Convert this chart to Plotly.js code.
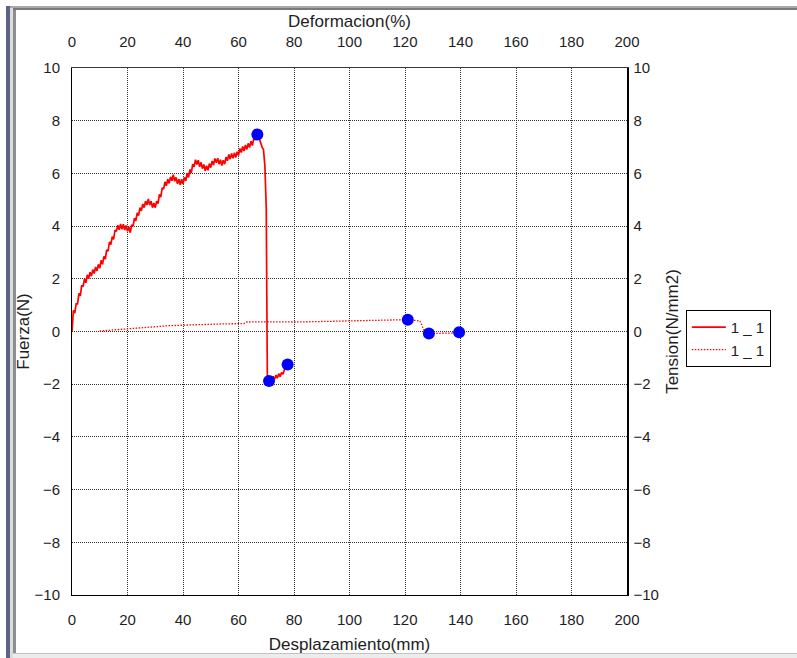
<!DOCTYPE html>
<html>
<head>
<meta charset="utf-8">
<script src="https://cdn.plot.ly/plotly-3.0.1.min.js"></script>
<style>
  html, body { margin: 0; padding: 0; background: #ffffff; }
  #wrap { position: relative; width: 797px; height: 658px; overflow: hidden; }
  #chart { position: absolute; left: 0; top: 0; width: 797px; height: 658px; }
  .fr { position: absolute; pointer-events: none; }
</style>
</head>
<body>
<div id="wrap">
  <div id="chart"></div>
  <div class="fr" style="left:6px;top:6px;width:4px;height:652px;background:#5c6384;"></div>
  <div class="fr" style="left:10px;top:6px;width:3px;height:652px;background:#dcdcdc;"></div>
  <div class="fr" style="left:13px;top:9px;width:3px;height:644px;background:#8e8e8e;"></div>
  <div class="fr" style="left:10px;top:6px;width:787px;height:2px;background:#a8a8a8;"></div>
  <div class="fr" style="left:13px;top:8px;width:784px;height:2px;background:#7a7a7a;"></div>
  <div class="fr" style="left:13px;top:653px;width:784px;height:1px;background:#c4c4c4;"></div>
  <div class="fr" style="left:13px;top:654px;width:784px;height:4px;background:#ececec;"></div>
</div>
<script>
// Fuerza (N) vs Desplazamiento (mm), solid series "1 _ 1"
const dispX = [0,0.5,1,1.5,2,2.5,3,3.5,4,4.5,5,5.5,6,6.5,7,7.5,8,8.5,9,9.5,
  10,10.5,11,11.5,12,12.5,13,13.5,14,14.5,15,15.5,16,16.5,17,17.5,18,18.5,19,19.5,
  20,20.5,21,21.5,22,22.5,23,23.5,24,24.5,25,25.5,26,26.5,27,27.5,28,28.5,29,29.5,
  30,30.5,31,31.5,32,32.5,33,33.5,34,34.5,35,35.5,36,36.5,37,37.5,38,38.5,39,39.5,
  40,40.5,41,41.5,42,42.5,43,43.5,44,44.5,45,45.5,46,46.5,47,47.5,48,48.5,49,49.5,
  50,50.5,51,51.5,52,52.5,53,53.5,54,54.5,55,55.5,56,56.5,57,57.5,58,58.5,59,59.5,
  60,60.5,61,61.5,62,62.5,63,63.5,64,64.5,65,65.5,66,66.5,67,67.5,68,68.5,69,69.5,
  70,70.4,71,71.5,72,72.5,73,73.5,74,74.5,75,75.5,76,76.5,77,77.7];
const fuerza = [0,0.80,0.70,1.05,1.05,1.45,1.35,1.75,1.70,2.00,1.85,2.15,2.00,2.25,2.10,2.35,2.20,2.45,2.30,2.55,
  2.40,2.70,2.55,2.85,2.75,3.10,3.05,3.40,3.30,3.60,3.50,3.85,3.80,4.03,3.86,4.08,3.88,4.07,3.85,4.02,
  3.80,3.97,3.75,4.05,4.00,4.30,4.20,4.50,4.40,4.70,4.58,4.84,4.70,4.95,4.80,5.03,4.80,4.95,4.70,4.88,
  4.70,4.95,4.85,5.20,5.10,5.45,5.40,5.68,5.53,5.78,5.62,5.87,5.72,5.95,5.70,5.85,5.60,5.78,5.57,5.78,
  5.60,5.85,5.72,6.00,5.85,6.15,6.02,6.35,6.25,6.52,6.34,6.50,6.25,6.42,6.18,6.34,6.10,6.29,6.12,6.37,
  6.22,6.47,6.32,6.57,6.40,6.58,6.35,6.52,6.30,6.50,6.35,6.62,6.48,6.72,6.54,6.76,6.57,6.78,6.60,6.82,
  6.68,6.94,6.79,7.02,6.85,7.08,6.91,7.14,6.98,7.22,7.06,7.33,7.27,7.45,7.48,7.30,7.10,7.00,6.90,6.30,
  4.70,-1.85,-1.88,-1.74,-1.87,-1.70,-1.82,-1.66,-1.77,-1.60,-1.72,-1.56,-1.62,-1.46,-1.40,-1.25];

// Tension (N/mm2) vs Deformacion (%), dotted series "1 _ 1"
const deformX = [10,15,20,25,30,35,40,45,50,55,62,63,70,80,90,100,110,115,121,125.4,127.2,128.6,135,139.5];
const tension = [0.02,0.06,0.12,0.15,0.20,0.22,0.24,0.26,0.27,0.29,0.30,0.36,0.37,0.36,0.38,0.40,0.42,0.44,0.45,0.40,-0.04,-0.08,-0.07,-0.05];

// marked points
const markF_X = [66.8, 71, 77.7];
const markF_Y = [7.48, -1.88, -1.25];
const markT_X = [121, 128.6, 139.5];
const markT_Y = [0.45, -0.08, -0.03];

const xTicks = [0,20,40,60,80,100,120,140,160,180,200];
const yTicks = [-10,-8,-6,-4,-2,0,2,4,6,8,10];
const seriesName = "1 _ 1";

const FONT = "Liberation Sans, Arial, sans-serif";
const TXT = "#1e1e1e";

const traces = [
  { x: dispX, y: fuerza, type: "scatter", mode: "lines", name: seriesName,
    line: { color: "#ff0000", width: 1.7 }, xaxis: "x", yaxis: "y" },
  { x: deformX, y: tension, type: "scatter", mode: "lines", name: seriesName,
    line: { color: "#ff0000", width: 1.3, dash: "1.5px,1.5px" }, xaxis: "x2", yaxis: "y2" },
  { x: markF_X, y: markF_Y, type: "scatter", mode: "markers", showlegend: false,
    marker: { color: "#0000ff", size: 12 }, xaxis: "x", yaxis: "y" },
  { x: markT_X, y: markT_Y, type: "scatter", mode: "markers", showlegend: false,
    marker: { color: "#0000ff", size: 12 }, xaxis: "x2", yaxis: "y2" }
];

const gridStyle = { showgrid: true, gridcolor: "#333333", griddash: "1px,1px", gridwidth: 1 };

const layout = {
  width: 797, height: 658,
  margin: { l: 72, r: 170, t: 68, b: 63, pad: 0 },
  paper_bgcolor: "#ffffff", plot_bgcolor: "#ffffff",
  font: { family: FONT, color: TXT, size: 15 },
  showlegend: true,
  legend: {
    x: 1.106, y: 0.541, xanchor: "left", yanchor: "top",
    bordercolor: "#000000", borderwidth: 1, bgcolor: "#ffffff",
    font: { family: FONT, size: 15, color: TXT }, tracegroupgap: 0,
    entrywidth: 54, itemwidth: 34
  },
  xaxis: Object.assign({
    range: [0, 200], tickmode: "array", tickvals: xTicks, side: "bottom",
    showline: true, linecolor: "#000000", linewidth: 1, mirror: false,
    zeroline: false, ticks: "outside", ticklen: 11, tickcolor: "rgba(0,0,0,0)",
    tickfont: { size: 15 }, automargin: false,
    title: { text: "Desplazamiento(mm)", font: { size: 17 }, standoff: 11 }
  }, gridStyle),
  yaxis: Object.assign({
    range: [-10, 10], tickmode: "array", tickvals: yTicks,
    showline: true, linecolor: "#000000", linewidth: 1, mirror: false,
    zeroline: false, ticks: "outside", ticklen: 8, tickcolor: "rgba(0,0,0,0)",
    tickfont: { size: 15 }, automargin: false,
    title: { text: "Fuerza(N)", font: { size: 17 }, standoff: 0 }
  }, gridStyle),
  xaxis2: {
    range: [0, 200], tickmode: "array", tickvals: xTicks, side: "top",
    overlaying: "x", anchor: "y", showgrid: false, zeroline: false,
    showline: true, linecolor: "#3a3a3a", linewidth: 1.5,
    ticks: "outside", ticklen: 14, tickcolor: "rgba(0,0,0,0)",
    tickfont: { size: 15 }, automargin: false,
    title: { text: "Deformacion(%)", font: { size: 17 }, standoff: 0 }
  },
  yaxis2: {
    range: [-10, 10], tickmode: "array", tickvals: yTicks, side: "right",
    overlaying: "y", anchor: "x", showgrid: false, zeroline: false,
    showline: true, linecolor: "#000000", linewidth: 1.5,
    ticks: "outside", ticklen: 2, tickcolor: "rgba(0,0,0,0)",
    tickfont: { size: 15 }, automargin: false,
    title: { text: "Tension(N/mm2)", font: { size: 17 }, standoff: 8 }
  }
};

Plotly.newPlot("chart", traces, layout, { displayModeBar: false, staticPlot: true });
</script>
</body>
</html>
